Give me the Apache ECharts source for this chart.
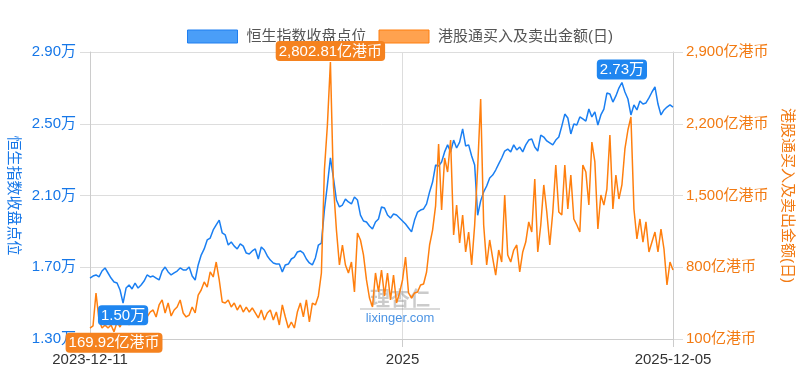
<!DOCTYPE html>
<html><head><meta charset="utf-8">
<script src="https://cdn.jsdelivr.net/npm/echarts@6/dist/echarts.min.js"></script>
<style>html,body{margin:0;padding:0;background:#fff}#c{width:800px;height:375px}</style>
</head><body><div id="c"></div><script>
const seriesNames = ['恒生指数收盘点位', '港股通买入及卖出金额(日)'];
const startDate = '2023-12-11';
const endDate = '2025-12-05';
const yearLabel = '2025';

// 恒生指数收盘点位 (points)
const hsiClose = [
16400,16510,16570,16460,16790,16960,16680,16400,16180,16120,
15730,15000,15840,16010,15790,16120,15840,16010,16230,16570,
16460,16510,16400,16290,16790,17010,16740,16570,16680,16790,
16960,16850,16850,17010,16510,16290,17130,17680,18020,18520,
18630,19080,19360,19630,18910,18800,18240,18410,18180,18020,
18300,18180,17790,17740,17910,18020,17460,18130,17960,17630,
17400,17240,17180,17180,16740,17130,17180,17460,17570,17850,
17910,17790,17460,17240,17130,17520,18240,18350,20190,21590,
23100,21980,20750,20360,20470,20800,20640,20530,20920,20750,
19910,19580,19520,19300,19130,19520,19690,20360,20300,19910,
19750,19970,19910,19750,19580,19410,19190,18970,19630,20080,
20190,20250,20530,21200,21750,22700,22640,22870,23430,23820,
23430,24090,23650,23980,24710,23760,23820,23200,22700,19900,
20700,21200,21530,21980,22140,22420,22760,23090,23480,23590,
23430,23820,23540,23700,23430,23820,24090,24150,23700,23480,
24370,24260,24040,23930,23820,24090,24260,24870,25540,25320,
24430,24990,24930,25380,25270,25150,25820,25380,25660,24930,
25490,25820,26710,26660,26210,26550,26990,27300,26770,26380,
25490,26050,25770,26270,26100,26160,26440,26770,27050,26100,
25490,25770,25930,26050,25930
];

// 港股通买入及卖出金额(日) (亿港币)
const southboundTurnover = [
207,227,549,285,207,237,207,237,169.92,266,
217,285,315,237,285,246,305,354,266,315,
363,383,315,432,481,354,451,324,383,412,
481,354,315,334,412,354,529,578,656,607,
754,705,851,676,461,451,481,412,451,383,
432,363,412,363,403,354,305,383,285,354,
383,285,363,237,432,315,207,266,207,363,
451,315,481,266,451,432,520,744,1749,2188,
2802.81,1603,1163,822,1017,822,744,851,559,1134,
1066,920,676,500,412,744,559,773,520,744,
481,724,451,549,676,900,549,500,549,559,
627,637,754,1017,1163,1398,2002,1359,1866,1729,
2042,1115,1407,1037,1310,949,1144,822,1212,1768,
2442,1212,822,1066,890,724,968,851,1505,920,
851,968,1017,754,949,1046,1242,1144,1661,949,
1212,1603,1339,1017,1339,1798,1339,1310,1798,1368,
1700,1271,1212,1144,1798,1729,1407,2022,1827,1173,
1505,1407,1563,2090,1368,1700,1466,1603,1954,2139,
2266,1368,1076,1271,1046,1242,949,1046,1144,949,
1173,978,627,851,773
];

const leftAxisTicks = [13000, 17000, 21000, 25000, 29000];
const rightAxisTicks = [100, 800, 1500, 2200, 2900];

const BLUE = '#1a7ff2', BLUE_TXT = '#1677e8', ORANGE = '#ff7f0e', ORANGE_TXT = '#f27a12';

const n = hsiClose.length;
const t0 = Date.parse(startDate + 'T00:00:00Z'), t1 = Date.parse(endDate + 'T00:00:00Z');
const DAY = 86400000;
const dates = hsiClose.map((_, i) => new Date(t0 + Math.round(i * (t1 - t0) / (n - 1) / DAY) * DAY).toISOString().slice(0, 10));
dates[n - 1] = endDate;
const idxYear = dates.findIndex(d => d >= yearLabel);
const labelIdx = [0, idxYear, n - 1];
const showIdx = (i) => labelIdx.indexOf(i) >= 0;

function thousands(v, d) {
  const s = Number(v).toFixed(d);
  const parts = s.split('.');
  parts[0] = parts[0].replace(/\B(?=(\d{3})+(?!\d))/g, ',');
  return parts.join('.');
}
const fmtWan = v => (v / 10000).toFixed(2) + '万';
const fmtYi = v => thousands(v, 0) + '亿港币';

const chart = echarts.init(document.getElementById('c'), null, {renderer: 'canvas'});
const FONT = "'Liberation Sans', 'Noto Sans CJK SC', sans-serif";

const mpLabel = (bg, fmt) => ({
  show: true, color: '#fff', fontSize: 15, fontFamily: FONT,
  backgroundColor: bg, borderRadius: 4, padding: [3, 3, 2, 3], formatter: p => fmt(p.value)
});

chart.setOption({
  animation: false,
  textStyle: {fontFamily: FONT},
  legend: {
    top: 24, left: 'center', itemWidth: 50, itemHeight: 13, itemGap: 12, icon: 'rect',
    textStyle: {fontSize: 15, color: '#555', padding: [0, 0, 0, 4]},
    data: [
      {name: seriesNames[0], itemStyle: {color: '#4a9ef8', borderColor: '#1f7ef0', borderWidth: 1}},
      {name: seriesNames[1], itemStyle: {color: '#ffa24f', borderColor: '#ff7f0e', borderWidth: 1}}
    ]
  },
  grid: {left: 90, right: 127, top: 52, bottom: 36, containLabel: false, outerBoundsMode: 'none'},
  xAxis: {
    type: 'category', boundaryGap: false, data: dates,
    axisLine: {lineStyle: {color: '#ccc'}},
    axisTick: {show: true, interval: showIdx, length: 8, lineStyle: {color: '#ccc'}},
    axisLabel: {interval: showIdx, color: '#333', fontSize: 15, margin: 13,
      formatter: (v, i) => (i === idxYear ? yearLabel : v)},
    splitLine: {show: true, interval: showIdx, lineStyle: {color: '#ddd'}}
  },
  yAxis: [
    {
      type: 'value', position: 'left', min: leftAxisTicks[0], max: leftAxisTicks[leftAxisTicks.length - 1],
      interval: leftAxisTicks[1] - leftAxisTicks[0],
      name: seriesNames[0], nameLocation: 'middle', nameRotate: -90, nameGap: 68,
      nameTextStyle: {color: BLUE_TXT, fontSize: 15},
      axisLine: {show: true, lineStyle: {color: '#ccc'}},
      axisTick: {show: true, length: 10, lineStyle: {color: '#ddd'}},
      axisLabel: {color: BLUE_TXT, fontSize: 15, margin: 14, formatter: fmtWan},
      splitLine: {show: true, lineStyle: {color: '#ddd'}}
    },
    {
      type: 'value', position: 'right', min: rightAxisTicks[0], max: rightAxisTicks[rightAxisTicks.length - 1],
      interval: rightAxisTicks[1] - rightAxisTicks[0],
      name: seriesNames[1], nameLocation: 'middle', nameRotate: -90, nameGap: 106,
      nameTextStyle: {color: ORANGE_TXT, fontSize: 15},
      axisLine: {show: true, lineStyle: {color: '#ccc'}},
      axisTick: {show: true, length: 10, lineStyle: {color: '#ddd'}},
      axisLabel: {color: ORANGE_TXT, fontSize: 15, margin: 13, formatter: fmtYi},
      splitLine: {show: false}
    }
  ],
  series: [
    {
      name: seriesNames[0], type: 'line', yAxisIndex: 0, data: hsiClose,
      showSymbol: false, color: BLUE, lineStyle: {width: 1.5, color: BLUE}, z: 2,
      markPoint: {
        symbol: 'circle', symbolSize: 0,
        label: mpLabel('#1f86f0', fmtWan),
        data: [
          {type: 'max', label: {position: 'top', distance: 3}},
          {type: 'min', label: {position: 'bottom', distance: 2}}
        ]
      }
    },
    {
      name: seriesNames[1], type: 'line', yAxisIndex: 1, data: southboundTurnover,
      showSymbol: false, color: ORANGE, lineStyle: {width: 1.5, color: ORANGE}, z: 3,
      markPoint: {
        symbol: 'circle', symbolSize: 0,
        label: mpLabel('#f5821f', v => thousands(v, 2) + '亿港币'),
        data: [
          {type: 'max', label: {position: 'top', distance: 1}},
          {type: 'min', label: {position: 'bottom', distance: 1}}
        ]
      }
    }
  ],
  graphic: [
    {type: 'text', x: 400, y: 298, z: 1, silent: true,
      style: {text: '理杏仁', fill: 'rgba(140,140,140,0.45)', font: "bold 20px 'Noto Sans CJK SC'", align: 'center', verticalAlign: 'middle'}},
    {type: 'line', z: 1, silent: true, shape: {x1: 360, y1: 309, x2: 440, y2: 309},
      style: {stroke: 'rgba(120,120,120,0.55)', lineWidth: 1}},
    {type: 'text', x: 400, y: 318, z: 1, silent: true,
      style: {text: 'lixinger.com', fill: 'rgba(30,120,220,0.8)', font: "13px 'Liberation Sans'", align: 'center', verticalAlign: 'middle'}}
  ]
});
</script></body></html>
